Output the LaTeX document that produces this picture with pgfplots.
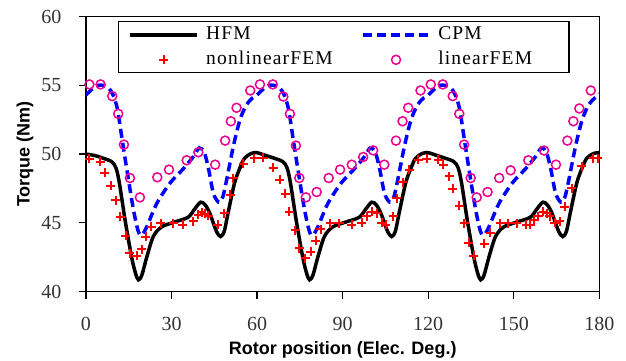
\documentclass[border=0pt]{standalone}
\usepackage{fontspec}
\setmainfont{Liberation Serif}
\newfontfamily\labfont{Liberation Sans}
\usepackage{pgfplots}
\pgfplotsset{compat=1.18}
\pgfplotsset{mylegimg/.style={legend image code/.code={\draw[mark repeat=2,mark phase=2,##1] plot coordinates {(0pt,0pt) (33.5pt,0pt) (67pt,0pt)};}}}
\begin{document}
\begin{tikzpicture}
\useasboundingbox (-86pt,-69.5pt) rectangle (540pt,291.5pt);
\begin{axis}[
  at={(0pt,0pt)}, anchor=south west,
  scale only axis, width=513.3pt, height=274.8pt,
  xmin=0, xmax=180, ymin=40, ymax=60,
  xtick={0,30,60,90,120,150,180}, ytick={40,45,50,55,60},
  tick align=outside, tick pos=left,
  major tick length=7pt,
  axis line style={line width=1.4pt},
  major tick style={line width=1.4pt, black},
  /pgf/number format/assume math mode=true,
  tick label style={font=\fontsize{20}{20}\selectfont, text=black!80},
  xticklabel style={yshift=-15pt},
  yticklabel style={xshift=-14pt},
  xlabel={Rotor position (Elec. Deg.)},
  ylabel={Torque (Nm)},
  label style={font=\labfont\bfseries\fontsize{18}{18}\selectfont},
  xlabel style={at={(axis description cs:0.5,-0.231)}, anchor=base},
  ylabel style={at={(axis description cs:-0.1188,0.5)}, anchor=center},
  legend columns=2,
  legend cell align=left,
  legend style={at={(axis description cs:0.0623,0.984)}, anchor=north west,
    draw=black, line width=1.4pt, inner xsep=10pt, inner ysep=2.5pt,
    font=\fontsize{19.5}{19.5}\selectfont\addfontfeatures{LetterSpace=6},
    row sep=4pt,
    nodes={inner sep=2pt, text height=13pt, text depth=4pt},
    /tikz/column 1/.style={column sep=5pt},
    /tikz/column 2/.style={column sep=26pt},
    /tikz/column 3/.style={column sep=5pt}},
]
\addplot[black, line width=3.5pt, smooth, tension=0.5, no marks, mylegimg] coordinates {
(0,50.0) (3,49.9) (6,49.7) (9,49.45) (10.5,49.0) (11.7,47.9) (13.7,45.2) (16,42.5) (17.4,41.3) (18.4,40.85) (19.6,41.2) (21.3,42.5) (23.6,44.0) (26.5,44.7) (31,45.05) (35.8,45.4) (38.1,46.0) (40.2,46.5) (41.8,46.3) (43.4,45.7) (45.7,44.4) (47.2,44.0) (48.5,44.4) (49.8,45.7) (52.1,47.9) (54,49.0) (55.6,49.7) (58,50.05)
(60,50.1) (63,49.9) (66,49.7) (69,49.45) (70.5,49.0) (71.7,47.9) (73.7,45.2) (76,42.5) (77.4,41.3) (78.4,40.85) (79.6,41.2) (81.3,42.5) (83.6,44.0) (86.5,44.7) (91,45.05) (95.8,45.4) (98.1,46.0) (100.2,46.5) (101.8,46.3) (103.4,45.7) (105.7,44.4) (107.2,44.0) (108.5,44.4) (109.8,45.7) (112.1,47.9) (114,49.0) (115.6,49.7) (118,50.05)
(120,50.1) (123,49.9) (126,49.7) (129,49.45) (130.5,49.0) (131.7,47.9) (133.7,45.2) (136,42.5) (137.4,41.3) (138.4,40.85) (139.6,41.2) (141.3,42.5) (143.6,44.0) (146.5,44.7) (151,45.05) (155.8,45.4) (158.1,46.0) (160.2,46.5) (161.8,46.3) (163.4,45.7) (165.7,44.4) (167.2,44.0) (168.5,44.4) (169.8,45.7) (172.1,47.9) (174,49.0) (175.6,49.7) (178,50.05) (180,50.1)
};
\addlegendentry{HFM}
\addplot[blue, line width=3.5pt, dash pattern=on 9pt off 5pt, smooth, tension=0.5, no marks, mylegimg] coordinates {
(0,54.3) (2,54.7) (4,55.0) (6,55.0) (8,54.8) (9.5,54.3) (11,53.3) (12.5,51.3) (14.3,48.9) (16.6,46.0) (18.3,44.4) (19.5,44.1) (21.3,44.7) (24.8,46.4) (29.5,47.9) (34,48.9) (37.6,49.8) (39.7,50.45) (41.5,50.1) (43,48.9) (44.6,47.2) (46,46.6) (47,46.5) (48,46.9) (49.3,48.1) (51.7,50.6) (54,52.5) (56.3,53.6) (58.5,54.1)
(60,54.3) (62,54.7) (64,55.0) (66,55.0) (68,54.8) (69.5,54.3) (71,53.3) (72.5,51.3) (74.3,48.9) (76.6,46.0) (78.3,44.4) (79.5,44.1) (81.3,44.7) (84.8,46.4) (89.5,47.9) (94,48.9) (97.6,49.8) (99.7,50.45) (101.5,50.1) (103,48.9) (104.6,47.2) (106,46.6) (107,46.5) (108,46.9) (109.3,48.1) (111.7,50.6) (114,52.5) (116.3,53.6) (118.5,54.1)
(120,54.3) (122,54.7) (124,55.0) (126,55.0) (128,54.8) (129.5,54.3) (131,53.3) (132.5,51.3) (134.3,48.9) (136.6,46.0) (138.3,44.4) (139.5,44.1) (141.3,44.7) (144.8,46.4) (149.5,47.9) (154,48.9) (157.6,49.8) (159.7,50.45) (161.5,50.1) (163,48.9) (164.6,47.2) (166,46.6) (167,46.5) (168,46.9) (169.3,48.1) (171.7,50.6) (174,52.5) (176.3,53.6) (178.5,54.1) (180,54.4)
};
\addlegendentry{CPM}
\addplot[only marks, mark=+, red, mark size=4.5pt, mark options={line width=2pt}, mylegimg] coordinates {
(1.2,49.65) (5.0,49.45) (6.5,48.65) (8.6,47.7) (10.5,46.65) (12.0,45.45) (14.0,44.05) (15.4,42.8) (17.8,42.6) (19.5,43.08) (21.0,44.0) (22.8,44.73) (26.3,44.98) (30.6,44.98) (33.9,44.85) (37.6,45.1) (39.4,45.58) (40.6,45.75) (41.7,45.66) (42.9,45.5) (46.2,44.85) (48.4,45.7) (50.5,47.04) (51.7,48.26) (55.2,49.3) (59.0,49.7)
(62.2,49.72) (65.7,48.99) (68.0,48.14) (69.8,47.12) (71.3,45.82) (73.3,44.44) (74.8,43.15) (76.8,42.42) (78.8,42.9) (80.5,43.71) (82.3,44.54) (85.6,44.98) (88.8,44.98) (93.2,44.85) (96.7,45.02) (98.4,45.46) (100.2,45.8) (101.9,45.71) (103.7,45.02) (105.2,44.85) (107.7,45.46) (108.9,46.8) (111.0,47.94) (113.4,48.87) (116.5,49.6) (119.5,49.65)
(123.5,49.6) (125.3,49.23) (127.4,48.38) (128.6,47.46) (130.9,46.24) (132.6,44.98) (134.3,43.56) (136.0,42.59) (139.7,43.47) (141.7,44.29) (145.2,44.98) (148.1,44.98) (151.0,44.98) (154.3,44.85) (155.7,44.85) (157.1,45.22) (158.6,45.46) (160.3,45.82) (161.5,45.71) (162.7,45.46) (164.4,45.0) (166.2,45.1) (167.9,46.15) (170.3,47.53) (173.8,49.1) (177.9,49.7) (179.4,49.7)
};
\addlegendentry{nonlinearFEM}
\addplot[only marks, mark=o, magenta, mark size=4.5pt, mark options={line width=1.5pt}, mylegimg] coordinates {
(1.2,55.07) (5.1,55.07) (9.2,54.22) (11.3,52.93) (13.3,50.69) (15.4,48.26) (18.9,46.85) (25.0,48.31) (29.1,48.87) (35.3,49.55) (39.4,50.13) (45.3,49.23) (48.8,50.98) (50.8,52.39) (52.8,53.37) (57.6,54.63)
(61.0,55.07) (65.5,55.07) (69.2,54.19) (71.5,52.93) (73.6,50.62) (74.8,48.26) (77.1,46.85) (80.9,47.24) (85.1,48.26) (89.1,48.87) (93.2,49.23) (97.2,49.79) (100.7,50.27) (104.6,49.23) (108.7,50.98) (111.0,52.39) (113.0,53.37) (117.3,54.63)
(120.9,55.07) (125.1,55.07) (128.6,54.22) (130.9,52.93) (132.6,50.69) (134.9,48.26) (137.0,46.85) (140.8,47.24) (144.9,48.26) (148.9,48.82) (155.1,49.55) (160.6,50.26) (164.8,49.23) (168.8,50.98) (170.9,52.39) (173.0,53.32) (177.0,54.63)
};
\addlegendentry{linearFEM\hspace*{25pt}}
\end{axis}
\end{tikzpicture}
\end{document}
